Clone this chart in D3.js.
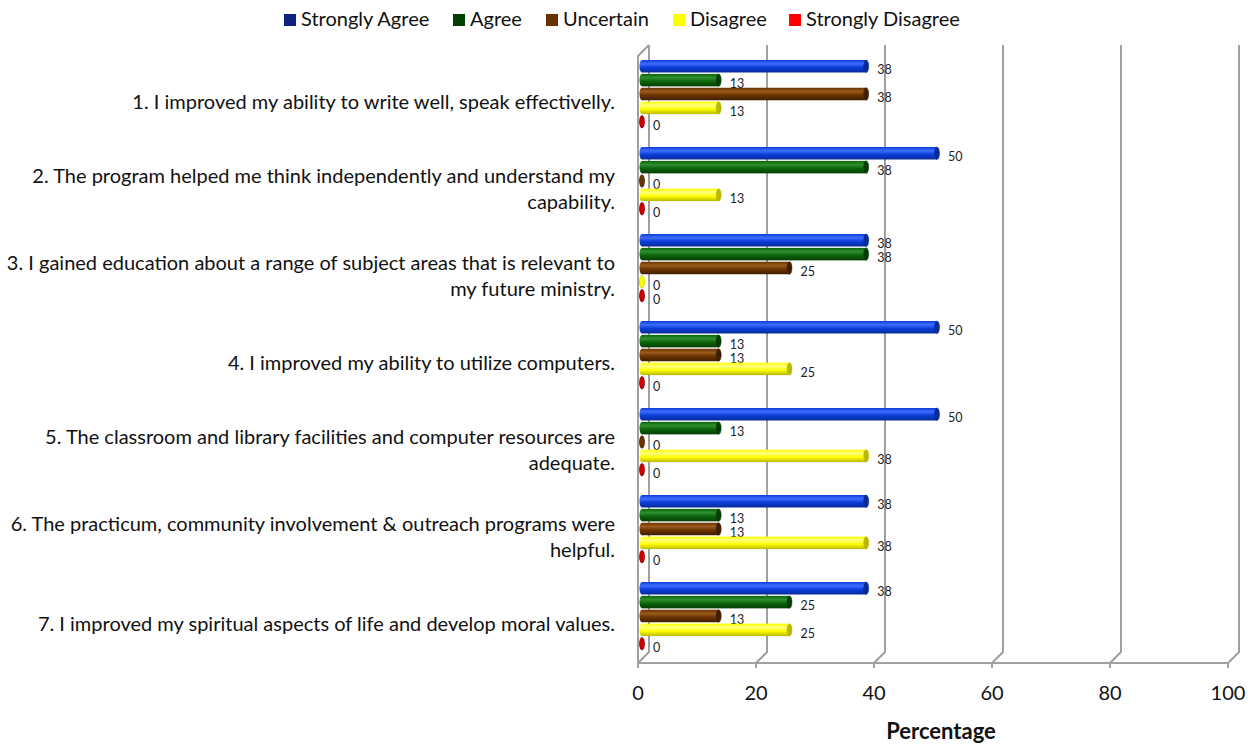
<!DOCTYPE html>
<html>
<head>
<meta charset="utf-8">
<script src="https://cdn.jsdelivr.net/npm/d3@7"></script>
<style>
body { margin: 0; background: #fff; }
text { font-family: Lato, "Open Sans", sans-serif; }
</style>
</head>
<body>
<svg id="chart"></svg>
<script>
// survey chart, horizontal 3D-ish cylinders like the Excel original

var screen = {width: 1248, height: 744}

var categories = [
  "1. I improved my ability to write well, speak effectivelly.",
  "2. The program helped me think independently and understand my\ncapability.",
  "3. I gained education about a range of subject areas that is relevant to\nmy future ministry.",
  "4. I improved my ability to utilize computers.",
  "5. The classroom and library facilities and computer resources are\nadequate.",
  "6. The practicum, community involvement & outreach programs were\nhelpful.",
  "7. I improved my spiritual aspects of life and develop moral values."
]

var seriesNames = ["Strongly Agree", "Agree", "Uncertain", "Disagree", "Strongly Disagree"]

var stronglyAgree    = [38, 50, 38, 50, 50, 38, 38]
var agree            = [13, 38, 38, 13, 13, 13, 25]
var uncertain        = [38, 0, 25, 13, 0, 13, 13]
var disagree         = [13, 13, 0, 25, 38, 38, 25]
var stronglyDisagree = [0, 0, 0, 0, 0, 0, 0]

var xTicks = [0, 20, 40, 60, 80, 100]

var legendColors = ["#0d2180", "#004000", "#663300", "#ffff00", "#ff0000"]
var barColors = [
  {light: "#3f6cff", mid: "#0a3ed8", dark: "#062b99"},
  {light: "#2f8f2f", mid: "#0b640b", dark: "#053d05"},
  {light: "#9a5a1e", mid: "#6b3300", dark: "#3f1e00"},
  {light: "#ffff80", mid: "#ffff00", dark: "#b8b800"},
  {light: "#ff5050", mid: "#cc0000", dark: "#800000"}
]

var allSeries = [stronglyAgree, agree, uncertain, disagree, stronglyDisagree]

var rows = categories.map(function(c, i) {
  return {
    cat: c,
    vals: seriesNames.map(function(s, j) { return {name: s, idx: j, value: allSeries[j][i]} })
  }
})

var svg = d3.select("#chart")
  .attr("width", screen.width)
  .attr("height", screen.height)

var depth = {dx: 11, dy: -11}
var floorY = 663
var topY = 45

var xScale = d3.scaleLinear().domain([0, 100]).range([638, 1228])
var yScale = d3.scaleBand().domain(categories).range([50, 659])
var inner = d3.scaleBand().domain(seriesNames).range([10, 78]).paddingInner(0.1)

// gradients for cylinder look
var defs = svg.append("defs")
barColors.forEach(function(c, i) {
  var g = defs.append("linearGradient")
    .attr("id", "grad" + i)
    .attr("x1", 0).attr("y1", 0).attr("x2", 0).attr("y2", 1)
  g.append("stop").attr("offset", "0%").attr("stop-color", c.mid)
  g.append("stop").attr("offset", "30%").attr("stop-color", c.light)
  g.append("stop").attr("offset", "60%").attr("stop-color", c.mid)
  g.append("stop").attr("offset", "100%").attr("stop-color", c.dark)
})

// walls + gridlines
var grid = svg.append("g").attr("id", "grid")
  .attr("stroke", "#a0a0a0").attr("stroke-width", 2).attr("fill", "none")

xTicks.forEach(function(t) {
  var x = xScale(t)
  grid.append("path")
    .attr("d", "M" + x + "," + floorY + "L" + (x + depth.dx) + "," + (floorY + depth.dy) +
               "L" + (x + depth.dx) + "," + topY)
  grid.append("line")
    .attr("x1", x).attr("x2", x).attr("y1", floorY).attr("y2", floorY + 5)
})
// left wall
grid.append("path")
  .attr("d", "M" + xScale(0) + "," + floorY + "L" + xScale(0) + "," + (topY - depth.dy) +
             "L" + (xScale(0) + depth.dx) + "," + topY)
// floor front edge
grid.append("line")
  .attr("x1", xScale(0)).attr("x2", xScale(100))
  .attr("y1", floorY).attr("y2", floorY)

// bars
var barOff = 4
var groups = svg.append("g").attr("id", "bars")
  .selectAll("g")
  .data(rows)
  .enter()
  .append("g")
  .attr("transform", function(d) { return "translate(0," + yScale(d.cat) + ")" })

var bars = groups.selectAll("g")
  .data(function(d) { return d.vals })
  .enter()
  .append("g")

var bh = inner.bandwidth()

bars.append("rect")
  .attr("x", xScale(0) + barOff)
  .attr("y", function(d) { return inner(d.name) })
  .attr("width", function(d) { return Math.max(0, xScale(d.value) - xScale(0)) })
  .attr("height", bh)
  .attr("fill", function(d) { return "url(#grad" + d.idx + ")" })

// start cap
bars.append("ellipse")
  .attr("cx", xScale(0) + barOff)
  .attr("cy", function(d) { return inner(d.name) + bh / 2 })
  .attr("rx", 2.5)
  .attr("ry", bh / 2)
  .attr("fill", function(d) { return "url(#grad" + d.idx + ")" })

// end cap
bars.append("ellipse")
  .attr("cx", function(d) { return xScale(d.value) + barOff })
  .attr("cy", function(d) { return inner(d.name) + bh / 2 })
  .attr("rx", 2.5)
  .attr("ry", bh / 2)
  .attr("fill", function(d) { return d.value == 0 ? barColors[d.idx].mid : barColors[d.idx].dark })
  .attr("stroke", function(d) { return barColors[d.idx].dark })
  .attr("stroke-width", 0.5)

// value labels
bars.append("text")
  .attr("x", function(d) { return xScale(d.value) + barOff + 11 })
  .attr("y", function(d) { return inner(d.name) + bh / 2 + 8 })
  .attr("font-size", 12.5)
  .attr("fill", "#222")
  .text(function(d) { return d.value })

// category labels
var catLabels = svg.append("g").attr("id", "cats")
  .selectAll("text")
  .data(categories)
  .enter()
  .append("text")
  .attr("text-anchor", "end")
  .attr("font-size", 20)
  .attr("fill", "#111")
  .attr("transform", function(d) {
    var lines = d.split("\n").length
    var cy = yScale(d) + yScale.bandwidth() / 2 + 8 - (lines - 1) * 13
    return "translate(615," + cy + ")"
  })

catLabels.selectAll("tspan")
  .data(function(d) { return d.split("\n") })
  .enter()
  .append("tspan")
  .attr("x", 0)
  .attr("dy", function(d, i) { return i == 0 ? "0.35em" : "26px" })
  .text(function(d) { return d })

// x tick labels
svg.append("g").selectAll("text")
  .data(xTicks)
  .enter()
  .append("text")
  .attr("x", function(d) { return xScale(d) })
  .attr("y", 700)
  .attr("text-anchor", "middle")
  .attr("font-size", 20)
  .attr("fill", "#111")
  .text(function(d) { return d })

svg.append("text")
  .attr("x", 941)
  .attr("y", 739)
  .attr("text-anchor", "middle")
  .attr("font-size", 22)
  .attr("font-weight", "bold")
  .attr("fill", "#111")
  .text("Percentage")

// legend
var legendX = [284, 453, 546, 673, 789]
var legend = svg.append("g").attr("id", "legend")
  .selectAll("g")
  .data(seriesNames)
  .enter()
  .append("g")
  .attr("transform", function(d, i) { return "translate(" + legendX[i] + ",14)" })

legend.append("rect")
  .attr("width", 12).attr("height", 12)
  .attr("fill", function(d, i) { return legendColors[i] })

legend.append("text")
  .attr("x", 17)
  .attr("y", 12)
  .attr("font-size", 20)
  .attr("fill", "#111")
  .text(function(d) { return d })
</script>
</body>
</html>
